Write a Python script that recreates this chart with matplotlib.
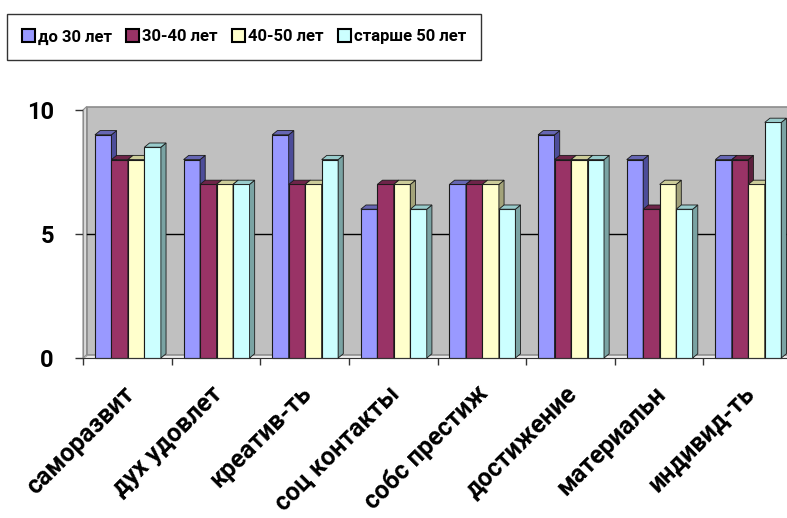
import matplotlib
matplotlib.use("Agg")
from matplotlib import pyplot as plt
from matplotlib import transforms
from matplotlib.patches import Polygon, Rectangle, Patch

plt.rcParams["font.family"] = ["Roboto", "DejaVu Sans"]
plt.rcParams["font.weight"] = "bold"

# data
categories = ["саморазвит", "дух удовлет", "креатив-ть", "соц контакты",
              "собс престиж", "достижение", "материальн", "индивид-ть"]
series_names = ["до 30 лет", "30-40 лет", "40-50 лет", "старше 50 лет"]
under_30 = [9, 8, 9, 6, 7, 9, 8, 8]
age_30_40 = [8, 7, 7, 7, 7, 8, 6, 8]
age_40_50 = [8, 7, 7, 7, 7, 8, 7, 7]
over_50 = [8.5, 7, 8, 6, 6, 8, 6, 9.5]
series = [under_30, age_30_40, age_40_50, over_50]
yticks = [0, 5, 10]

# colours: front, side, top
front = ["#9999ff", "#993366", "#ffffcc", "#ccffff"]
side = ["#4d4d99", "#5c1f3d", "#a3a37a", "#7aa3a3"]
top = ["#6666b3", "#6e2449", "#cccc99", "#99cccc"]

fig = plt.figure(figsize=(7.87, 5.18), dpi=100)
ax = fig.add_axes([83 / 787, 160 / 518, 709 / 787, 248 / 518])
ax.set_xlim(0, 8)
ax.set_ylim(0, 10)
ax.set_facecolor("none")

dx, dy = 0.058, 0.17      # depth of the 3d effect in data units
bw = 0.186                # bar width
x0 = 0.135                # offset of first bar in a group

# back wall, side wall and floor
wx, wy = dx * 0.7, dy * 0.8
ax.add_patch(Polygon([(0, 0), (wx, wy), (wx, 10 + wy), (0, 10)],
                     closed=True, fc="#d9d9d9", ec="#8c8c8c", lw=0.8, zorder=0.5, clip_on=False))
ax.add_patch(Rectangle((wx, wy), 8.3, 10, fc="#c0c0c0", ec="#8c8c8c",
                       lw=1.2, zorder=0.4, clip_on=False))
ax.add_patch(Polygon([(0, 0), (8.3, 0), (8.3, wy), (wx, wy)],
                     closed=True, fc="#ececec", ec="#9a9a9a", lw=0.6, zorder=0.6, clip_on=False))
ax.plot([wx, 8.3], [5, 5], color="black", lw=1, zorder=0.7, clip_on=False)

z = 2
for i in range(len(categories)):
    for j, vals in enumerate(series):
        x = i + x0 + j * bw
        h = vals[i]
        ax.bar(x, h, width=bw, align="edge", color=front[j], edgecolor="#1a1a1a",
               linewidth=0.8, zorder=z, clip_on=False)
        ax.add_patch(Polygon([(x + bw, 0), (x + bw + dx, dy), (x + bw + dx, h + dy), (x + bw, h)],
                             closed=True, fc=side[j], ec="#1a1a1a", lw=0.6, zorder=z, clip_on=False))
        ax.add_patch(Polygon([(x, h), (x + dx, h + dy), (x + bw + dx, h + dy), (x + bw, h)],
                             closed=True, fc=top[j], ec="#1a1a1a", lw=0.6, zorder=z, clip_on=False))
        z += 1

# axes styling
for s in ["top", "right"]:
    ax.spines[s].set_visible(False)
ax.spines["left"].set_color("#8c8c8c")
ax.spines["bottom"].set_color("#333333")
ax.spines["bottom"].set_zorder(50)

ax.set_yticks(yticks)
ax.set_yticklabels([str(v) for v in yticks], fontsize=17, fontweight="bold")
ax.tick_params(axis="y", length=6, width=1, color="#333333", pad=15)

ax.set_xticks(range(8))
ax.set_xticklabels([])
ax.tick_params(axis="x", which="major", length=5, width=1, color="#333333")

# rotated category labels, right end of baseline just below each group centre
lbl_tr = transforms.offset_copy(ax.get_xaxis_transform(), fig=fig, x=8, y=-37, units="dots")
for i, name in enumerate(categories):
    ax.text(i + 0.5, 0, name, transform=lbl_tr, fontsize=18, fontweight="bold",
            rotation=45, ha="right", va="baseline", rotation_mode="anchor")

# legend
handles = [Patch(facecolor=c, edgecolor="black", linewidth=1.5) for c in front]
leg = fig.legend(handles, series_names, loc="center", bbox_to_anchor=(244 / 787, 1 - 37 / 518),
                 ncol=4, frameon=True, fancybox=False, handlelength=0.78, handleheight=0.78,
                 handletextpad=0.18, columnspacing=0.85, borderpad=0.9,
                 prop={"size": 12, "weight": "bold"})
leg.get_frame().set_edgecolor("black")
leg.get_frame().set_linewidth(1)

fig.savefig("out.png", dpi=100)
